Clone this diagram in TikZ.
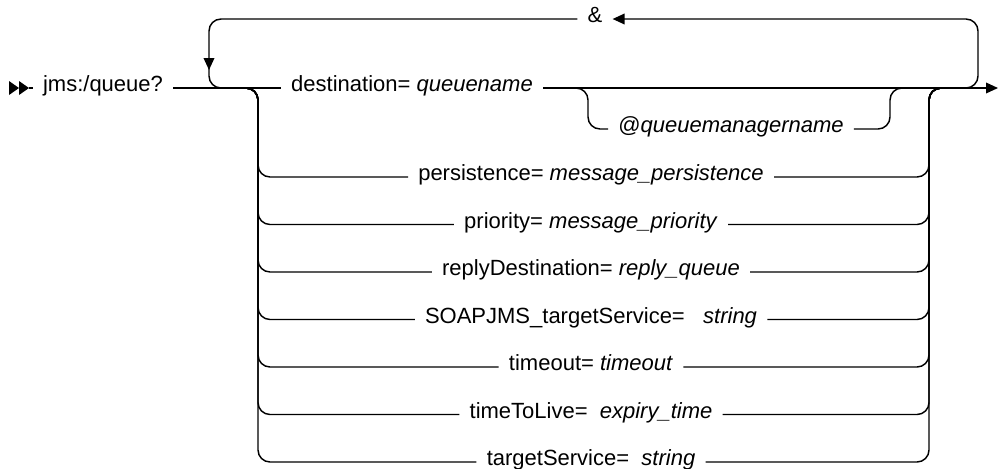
\documentclass[tikz,border=0pt]{standalone}
\usepackage{fontspec}
\setmainfont{Liberation Sans}
\usetikzlibrary{arrows.meta}

\begin{document}
\begin{tikzpicture}[x=0.75pt, y=-0.75pt,
    rail/.style={line width=1.1pt, rounded corners=9pt},
    kw/.style={font=\fontsize{16.5}{20}\selectfont, inner xsep=7.5pt, inner ysep=2pt, anchor=mid},
    tip/.style={-{Triangle[length=9pt,width=8pt]}}]
  \useasboundingbox (0,0) rectangle (1000,468);
  \fill (9,81) -- (19,88) -- (9,95) -- cycle;
  \fill (19,81) -- (29,88) -- (19,95) -- cycle;
  \coordinate (in) at (29,88);
  \coordinate (out) at (998,88);

  \node (jms) at (103,88) [kw] {jms:/queue?};
  \node (dest) at (412,88) [kw] {destination= \textit{queuename}};
  \node (qm) at (731,129) [kw] {@\textit{queuemanagername}};
  \node (amp) at (595,19) [kw] {\&};

  \draw[rail] (in) -- (jms.mid west);
  \draw[rail] (jms.mid east) -- (dest.mid west);
  \draw[rail, tip] (dest.mid east) -- (out);

  \draw[rail] (570,88) -- (588,88) -- (588,129) -- (qm.mid west);
  \draw[rail] (qm.mid east) -- (890,129) -- (890,88) -- (908,88);

  \draw[rail, tip] (955,88) -- (978,88) -- (978,19) -- (amp.mid east);
  \draw[rail, tip] (amp.mid west) -- (209,19) -- (209,70);
  \draw[rail] (209,60) -- (209,88) -- (232,88);

  \foreach \y/\nm/\txt in {
      177/pers/{persistence= \textit{message\_persistence}},
      224.5/prio/{priority= \textit{message\_priority}},
      272/reply/{replyDestination= \textit{reply\_queue}},
      319.5/soap/{SOAPJMS\_targetService=\ \ \ \textit{string}},
      367/tout/{timeout= \textit{timeout}},
      414.5/ttl/{timeToLive=\ \ \textit{expiry\_time}},
      462/tsvc/{targetService=\ \ \textit{string}}} {
    \node (\nm) at (591,\y) [kw] {\txt};
    \draw[rail] (240,88) -- (258,88) -- (258,\y) -- (\nm.mid west);
    \draw[rail] (\nm.mid east) -- (929,\y) -- (929,88) -- (947,88);
  }
\end{tikzpicture}
\end{document}
